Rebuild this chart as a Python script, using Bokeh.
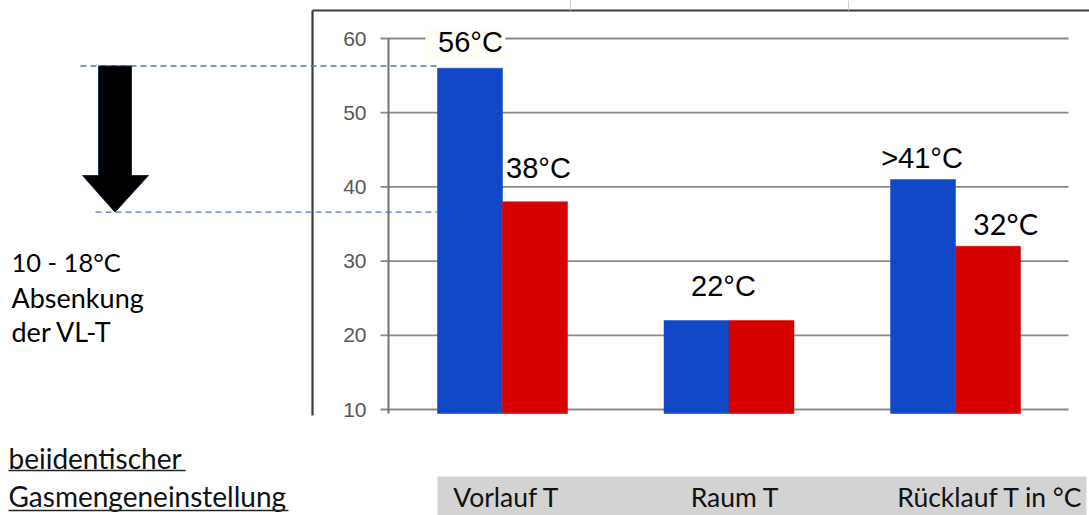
from bokeh.plotting import figure
from bokeh.core.properties import value
from bokeh.embed import file_html
from bokeh.resources import INLINE

# ---------------- data ----------------
categories = ["Vorlauf T", "Raum T", "Rücklauf T in °C"]
before_values = [56, 22, 41]      # blue bars
after_values = [38, 22, 32]       # red bars
label_texts = ["56°C", "38°C", "22°C", ">41°C", "32°C"]
label_values = [56, 38, 22, 41, 32]
label_groups = [0, 0, 1, 2, 2]
y_ticks = [10, 20, 30, 40, 50, 60]
reduction_levels = [56.3, 36.6]
side_note = ["10 - 18°C", "Absenkung", "der VL-T"]
footnote = ["beiidentischer", "Gasmengeneinstellung"]

# ---------------- layout helpers (screen geometry) ----------------
W, H = 1089, 515
OFF = 0
PX_PER_CAT = 226.5
CX0 = 502.0             # image x of first group centre
PX_PER_DEG = 7.42
Y10 = 409.0             # image y of value 10


def X(img_x):
    return (img_x - CX0) / PX_PER_CAT


def Y(img_y):
    return 10 + (Y10 - img_y) / PX_PER_DEG


def DX(px):
    return px / PX_PER_CAT


def DY(px):
    return px / PX_PER_DEG


p = figure(width=W, height=H, x_range=(X(OFF), X(OFF + W)), y_range=(Y(OFF + H), Y(OFF)),
           output_backend="svg", toolbar_location=None, min_border=0,
           x_axis_type=None, y_axis_type=None)
p.outline_line_color = None
p.xgrid.visible = False
p.ygrid.visible = False
p.background_fill_color = "white"
p.border_fill_color = "white"

CALIBRI = value("Lato")
ARIAL = value("Liberation Sans")

crop = Y(413)
bar_w = DX(65)
idx = list(range(len(categories)))

# outer screenshot frame
p.segment(x0=[X(312)], y0=[Y(10)], x1=[X(312)], y1=[Y(415)], line_color="#3c3c3c", line_width=2.2)
p.segment(x0=[X(312)], y0=[Y(10)], x1=[X(1095)], y1=[Y(10)], line_color="#3c3c3c", line_width=2.2)
p.segment(x0=[X(570), X(848)], y0=[Y(0), Y(0)], x1=[X(570), X(848)], y1=[Y(10), Y(10)],
          line_color="#cfcfcf", line_width=1)

# grid lines + ticks
p.segment(x0=[X(380)] * len(y_ticks), x1=[X(1068)] * len(y_ticks), y0=y_ticks, y1=y_ticks,
          line_color="#8a8a8a", line_width=1.8)
# axis line
p.segment(x0=[X(388)], x1=[X(388)], y0=[max(y_ticks)], y1=[crop], line_color="#707070", line_width=2)
# tick labels
p.text(x=[X(366)] * len(y_ticks), y=y_ticks, text=[str(t) for t in y_ticks],
       text_align="right", text_baseline="middle", text_font=ARIAL,
       text_font_size="21px", text_color="#585858")

# background behind the 56°C label
p.quad(left=[X(425)], right=[X(505)], top=[Y(28)], bottom=[Y(59)], fill_color="#fefef7", line_color=None)
# white box behind the 32°C label
p.quad(left=[X(955)], right=[X(1068)], top=[Y(193)], bottom=[Y(245)], fill_color="white", line_color=None)

# bars
p.vbar(x=[i - bar_w / 2 for i in idx], top=before_values, bottom=crop, width=bar_w,
       fill_color="#1048c8", line_color="#1048c8", line_width=0.5)
p.vbar(x=[i + bar_w / 2 for i in idx], top=after_values, bottom=crop, width=bar_w,
       fill_color="#d60000", line_color="#d60000", line_width=0.5)

# value labels (centre positions relative to bar tops)
label_dx_px = [-32, 36, -5.5, -33.5, 50]
label_dy_px = [26, 34, 34, 21, 23]
label_fonts = ["29px", "29px", "29px", "29px", "29px"]
for t, v, g, dxp, dyp, fs in zip(label_texts, label_values, label_groups, label_dx_px, label_dy_px, label_fonts):
    p.text(x=[g + DX(dxp)], y=[v + DY(dyp)], text=[t], text_align="center",
           text_baseline="middle", text_font=(CALIBRI if t == "32°C" else ARIAL),
           text_font_size=fs, text_color="black")

# dashed reduction lines
bar_left = 0 - bar_w
p.segment(x0=[X(80), X(95)], x1=[bar_left, bar_left], y0=reduction_levels, y1=reduction_levels,
          line_color="#4a78c4", line_width=1.4, line_dash="6 4")

# arrow
top_l, tip_l = reduction_levels
head_top = Y(175)
ax = [X(98), X(131), X(131), X(148), X(114.5), X(82), X(98)]
ay = [top_l, top_l, head_top, head_top, tip_l, head_top, head_top]
p.patch(x=ax, y=ay, fill_color="black", line_color="#1a2a5a", line_width=1)

# side note
side_centres = [261, 297, 331]
side_sizes = ["25.5px", "27px", "27px"]
for s, c, fs in zip(side_note, side_centres, side_sizes):
    p.text(x=[X(11)], y=[Y(c)], text=[s], text_align="left", text_baseline="middle",
           text_font=CALIBRI, text_font_size=fs, text_color="black")

# footnote with underline
foot_centre = [457, 495]
foot_line = [470, 510]
foot_w = [177, 280]
for s, c, u, wpx in zip(footnote, foot_centre, foot_line, foot_w):
    p.text(x=[X(8)], y=[Y(c)], text=[s], text_align="left", text_baseline="middle",
           text_font=CALIBRI, text_font_size="28px", text_color="#111111")
    p.segment(x0=[X(8)], x1=[X(8 + wpx)], y0=[Y(u)], y1=[Y(u)], line_color="#222222", line_width=1.6)

# category band
p.quad(left=[X(437)], right=[X(1086)], top=[Y(476)], bottom=[Y(520)], fill_color="#d3d3d3", line_color=None)
cat_dx_px = [4, 6, 35]
p.text(x=[i + DX(d) for i, d in zip(idx, cat_dx_px)], y=[Y(496)] * len(categories), text=categories,
       text_align="center", text_baseline="middle", text_font=CALIBRI,
       text_font_size="26.5px", text_color="#111111")

open("out.html", "w").write(file_html(p, INLINE))
